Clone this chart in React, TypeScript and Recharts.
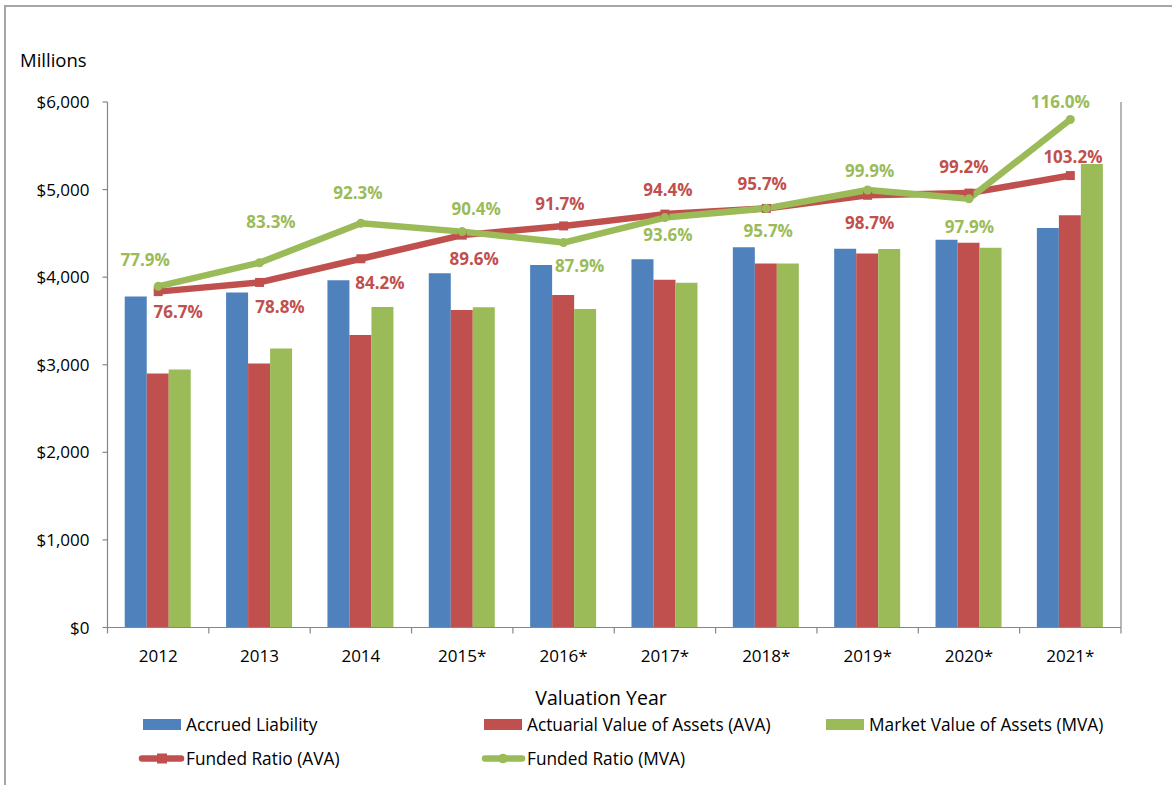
import React from 'react';
import { ComposedChart, Bar, Line, XAxis, YAxis, LabelList } from 'recharts';

const years = ['2012', '2013', '2014', '2015*', '2016*', '2017*', '2018*', '2019*', '2020*', '2021*'];
const accruedLiability = [3780, 3825, 3965, 4045, 4138, 4205, 4342, 4325, 4428, 4562];
const actuarialValue = [2899, 3014, 3339, 3625, 3795, 3970, 4155, 4269, 4393, 4708];
const marketValue = [2945, 3186, 3660, 3657, 3637, 3936, 4155, 4321, 4335, 5292];
const fundedRatioAVA = [76.7, 78.8, 84.2, 89.6, 91.7, 94.4, 95.7, 98.7, 99.2, 103.2];
const fundedRatioMVA = [77.9, 83.3, 92.3, 90.4, 87.9, 93.6, 95.7, 99.9, 97.9, 116.0];
const yTicks = [0, 1000, 2000, 3000, 4000, 5000, 6000];

// label offsets (relative to each point), placement only
const avaLabelOffsets = [[20, 20], [20.5, 24], [19, 24], [12, 24], [-3.6, -22], [3, -24], [-4, -25], [2, 28], [-5, -26], [2.6, -18.6]];
const mvaLabelOffsets = [[-13, -26], [11.5, -41], [-3, -30], [14, -23], [16, 23], [3, 17.5], [2, 22], [2, -19], [0.5, 28], [-10, -17.5]];

const data = years.map((year, i) => ({
  year,
  al: accruedLiability[i],
  ava: actuarialValue[i],
  mva: marketValue[i],
  frAva: fundedRatioAVA[i],
  frMva: fundedRatioMVA[i],
}));

const BLUE = '#4F81BD';
const RED = '#C0504D';
const GREEN = '#9BBB59';
const AXIS = '#868686';
const FONT = '"Open Sans", "DejaVu Sans", sans-serif';

const W = 1172;
const H = 785;
const MARGIN = { top: 102, right: 50, bottom: 127.5, left: 47.5 };
const Y_LEFT_W = 60;
const Y_RIGHT_W = 1;
const X_H = 30;
const PLOT_W = W - MARGIN.left - MARGIN.right - Y_LEFT_W - Y_RIGHT_W;
const LEGEND_FS = 17.3;

const XTick = (props: any) => {
  const { x, y, payload, index } = props;
  const half = PLOT_W / years.length / 2;
  return (
    <g>
      <line x1={x - half} x2={x - half} y1={y} y2={y + 6} stroke={AXIS} strokeWidth={1.2} />
      {index === years.length - 1 && (
        <line x1={x + half} x2={x + half} y1={y} y2={y + 6} stroke={AXIS} strokeWidth={1.2} />
      )}
      <text x={x} y={y + 34} textAnchor="middle" fill="#000" fontSize={17} fontFamily={FONT}>
        {payload.value}
      </text>
    </g>
  );
};

const makeLabel = (offsets: number[][], color: string) => (props: any) => {
  const { x, y, value, index } = props;
  const off = offsets[index] || [0, -20];
  return (
    <text
      x={x + off[0]}
      y={y + off[1]}
      dy="0.36em"
      textAnchor="middle"
      fill={color}
      fontSize={17}
      fontWeight="bold"
      fontFamily={FONT}
    >
      {Number(value).toFixed(1)}%
    </text>
  );
};

const SquareDot = (props: any) => {
  const { cx, cy, index } = props;
  if (cx == null || cy == null) return <g key={`s${index}`} />;
  return <rect key={`s${index}`} x={cx - 4.5} y={cy - 4.5} width={9} height={9} fill={RED} />;
};

const CircleDot = (props: any) => {
  const { cx, cy, index } = props;
  if (cx == null || cy == null) return <g key={`c${index}`} />;
  return <circle key={`c${index}`} cx={cx} cy={cy} r={4.5} fill={GREEN} />;
};

const fmtMoney = (v: number) => `$${v.toLocaleString('en-US')}`;

export default function App() {
  return (
    <div style={{ position: 'absolute', left: 0, top: 0, width: W, height: H, overflow: 'hidden', background: '#fff', fontFamily: FONT }}>
      <div
        style={{
          position: 'absolute',
          left: 4,
          top: 5,
          width: 1300,
          height: 900,
          borderTop: '2px solid #a6a6a6',
          borderLeft: '2px solid #a6a6a6',
          boxSizing: 'border-box',
        }}
      />
      <div style={{ position: 'absolute', left: 0, top: 0 }}>
        <ComposedChart width={W} height={H} data={data} margin={MARGIN} barCategoryGap="17%" barGap={0}>
          <XAxis
            dataKey="year"
            xAxisId={0}
            height={X_H}
            interval={0}
            tickLine={false}
            tickSize={0}
            tickMargin={0}
            axisLine={{ stroke: AXIS, strokeWidth: 1.2 }}
            tick={<XTick />}
          />
          <YAxis
            yAxisId="left"
            orientation="left"
            width={Y_LEFT_W}
            domain={[0, 6000]}
            ticks={yTicks}
            tickFormatter={fmtMoney}
            tickSize={5}
            tickMargin={13}
            axisLine={{ stroke: AXIS, strokeWidth: 1.2 }}
            tickLine={{ stroke: AXIS, strokeWidth: 1.2 }}
            tick={{ fill: '#000', fontSize: 17, fontFamily: FONT }}
            allowDataOverflow
          />
          <YAxis
            yAxisId="right"
            orientation="right"
            width={Y_RIGHT_W}
            domain={[0, 120]}
            tick={false}
            tickLine={false}
            axisLine={{ stroke: AXIS, strokeWidth: 1.2 }}
            allowDataOverflow
          />
          <Bar yAxisId="left" dataKey="al" name="Accrued Liability" fill={BLUE} isAnimationActive={false} />
          <Bar yAxisId="left" dataKey="ava" name="Actuarial Value of Assets (AVA)" fill={RED} isAnimationActive={false} />
          <Bar yAxisId="left" dataKey="mva" name="Market Value of Assets (MVA)" fill={GREEN} isAnimationActive={false} />
          <Line
            yAxisId="right"
            type="linear"
            dataKey="frAva"
            name="Funded Ratio (AVA)"
            stroke={RED}
            strokeWidth={6.5}
            strokeLinejoin="round"
            dot={SquareDot}
            activeDot={false}
            isAnimationActive={false}
          >
            <LabelList dataKey="frAva" content={makeLabel(avaLabelOffsets, RED)} />
          </Line>
          <Line
            yAxisId="right"
            type="linear"
            dataKey="frMva"
            name="Funded Ratio (MVA)"
            stroke={GREEN}
            strokeWidth={6.5}
            strokeLinejoin="round"
            strokeLinecap="round"
            dot={CircleDot}
            activeDot={false}
            isAnimationActive={false}
          >
            <LabelList dataKey="frMva" content={makeLabel(mvaLabelOffsets, GREEN)} />
          </Line>
        </ComposedChart>
      </div>
      <svg
        width={W}
        height={H}
        style={{ position: 'absolute', left: 0, top: 0, pointerEvents: 'none' }}
      >
        <text x={20} y={66.5} fontSize={18.5} fontFamily={FONT} fill="#000">Millions</text>
        <text x={601} y={705} fontSize={19.5} fontFamily={FONT} fill="#000" textAnchor="middle">Valuation Year</text>

        <rect x={143} y={719} width={38} height={11} fill={BLUE} />
        <text x={186} y={730.5} fontSize={LEGEND_FS} fontFamily={FONT} fill="#000">Accrued Liability</text>
        <rect x={484} y={719} width={38} height={11} fill={RED} />
        <text x={527} y={730.5} fontSize={LEGEND_FS} fontFamily={FONT} fill="#000">Actuarial Value of Assets (AVA)</text>
        <rect x={826} y={719} width={38} height={11} fill={GREEN} />
        <text x={869} y={730.5} fontSize={LEGEND_FS} fontFamily={FONT} fill="#000">Market Value of Assets (MVA)</text>

        <line x1={142} x2={181} y1={758.5} y2={758.5} stroke={RED} strokeWidth={6.5} strokeLinecap="round" />
        <rect x={157} y={753.5} width={10} height={10} fill={RED} />
        <text x={186} y={765} fontSize={LEGEND_FS} fontFamily={FONT} fill="#000">Funded Ratio (AVA)</text>
        <line x1={485} x2={522} y1={758.5} y2={758.5} stroke={GREEN} strokeWidth={6.5} strokeLinecap="round" />
        <circle cx={503} cy={758.5} r={4.8} fill={GREEN} />
        <text x={527} y={765} fontSize={LEGEND_FS} fontFamily={FONT} fill="#000">Funded Ratio (MVA)</text>
      </svg>
    </div>
  );
}
